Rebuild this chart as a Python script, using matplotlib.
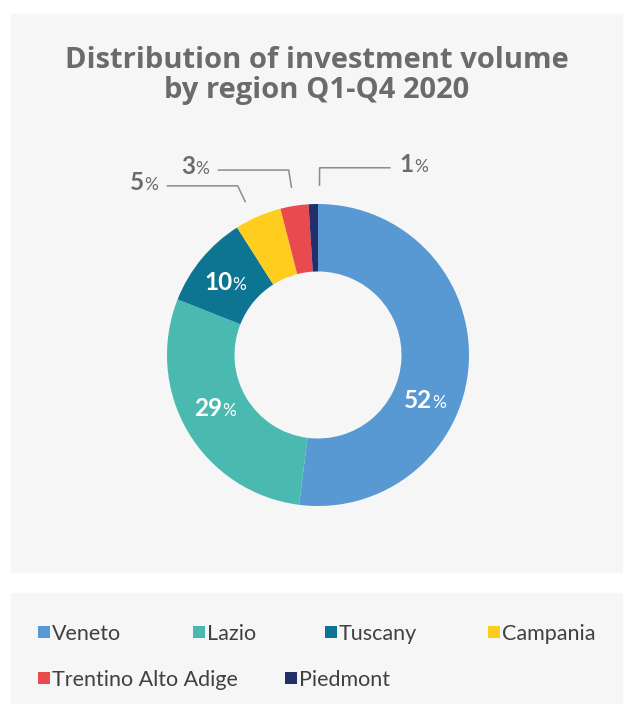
import numpy as np
import matplotlib.pyplot as plt
from matplotlib.patches import Rectangle

# Investment volume share by region, 2020
regions = ["Veneto", "Lazio", "Tuscany", "Campania", "Trentino Alto Adige", "Piedmont"]
shares = [52, 29, 10, 5, 3, 1]
colors = ["#5899D4", "#4ABAB1", "#0D7491", "#FECD1E", "#E84A4E", "#242F69"]
inside = [True, True, True, False, False, False]
title_lines = ["Distribution of investment volume", "by region Q1-Q4 2020"]

W, H = 623, 704
fig = plt.figure(figsize=(W / 100, H / 100), dpi=100)
fig.patch.set_facecolor("white")
# one axes over the whole figure, 1 data unit = 1 pixel, y pointing up
ax = fig.add_axes([0, 0, 1, 1])
ax.set_xlim(0, W)
ax.set_ylim(0, H)
ax.axis("off")

panel = "#f6f6f6"
ax.add_patch(Rectangle((11, H - 572), W - 11, 558, color=panel, zorder=0))
ax.add_patch(Rectangle((11, 0), W - 11, H - 593, color=panel, zorder=0))

# title
title_font = dict(family="Open Sans", fontweight="bold", fontsize=21, color="#6b6b6b")
for line, base in zip(title_lines, [68, 98]):
    ax.text(317, H - base, line, ha="center", va="baseline", **title_font)

# donut
cx, cy, R = 318, H - 355, 151
wedges, _ = ax.pie(shares, colors=colors, startangle=90, counterclock=False,
                   radius=R, center=(cx, cy), frame=True,
                   wedgeprops=dict(width=0.447 * R, linewidth=0))
ax.set_xlim(0, W)
ax.set_ylim(0, H)
ax.axis("off")

renderer = fig.canvas.get_renderer()
label_font = ["Lato", "DejaVu Sans"]


def pct_label(x, y, value, color, ha):
    # bold number followed by a smaller regular "%", on a shared baseline
    num = ax.text(0, y, str(value), fontsize=17.5, fontweight="bold", color=color,
                  family=label_font, va="baseline", ha="left")
    pc = ax.text(0, y, "%", fontsize=12.5, color=color, family=label_font,
                 va="baseline", ha="left")
    wn = num.get_window_extent(renderer).width
    wp = pc.get_window_extent(renderer).width
    total = wn + wp
    if ha == "center":
        x0 = x - total / 2
    elif ha == "right":
        x0 = x - total
    else:
        x0 = x
    num.set_x(x0)
    pc.set_x(x0 + wn)


# angle nudges (degrees) so labels sit clear of the neighbouring wedges
nudge = [-20, -2.5, 2, 2, 0, -2.3]
bounds = np.concatenate([[0], np.cumsum(shares)]) / sum(shares)
for i, (val, ins) in enumerate(zip(shares, inside)):
    mid = (bounds[i] + bounds[i + 1]) / 2
    ang = np.deg2rad(90 - mid * 360 + nudge[i])
    if ins:
        r = 0.775 * R
        pct_label(cx + r * np.cos(ang), cy + r * np.sin(ang) - 6, val, "white", "center")
    else:
        x1, y1 = cx + 1.12 * R * np.cos(ang), cy + 1.12 * R * np.sin(ang)
        x2, y2 = cx + 1.24 * R * np.cos(ang), cy + 1.24 * R * np.sin(ang)
        side = 1 if np.cos(ang) > 0 else -1
        x3 = x2 + side * 71
        ax.plot([x1, x2, x3], [y1, y2, y2], color="#8c8c8c", lw=1.1,
                solid_capstyle="butt", zorder=3)
        pct_label(x3 + side * 9, y2 - 4, val, "#6b6b6b", "left" if side > 0 else "right")

# legend
leg_items = [(38, 632), (193, 632), (325, 632), (488, 632), (38, 678), (285, 678)]
for (lx, ly), name, col in zip(leg_items, regions, colors):
    ax.add_patch(Rectangle((lx, H - ly - 6), 12, 12, color=col, lw=0, zorder=2))
    ax.text(lx + 14, H - ly, name, fontsize=15.5, fontweight="normal", color="#404040",
            family=label_font, va="center_baseline", ha="left")

fig.savefig("out.png", dpi=100, facecolor=fig.get_facecolor())
